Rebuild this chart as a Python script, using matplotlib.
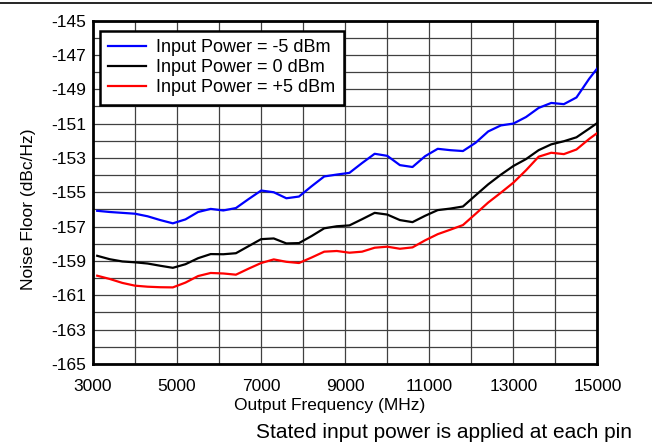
import numpy as np
import matplotlib.pyplot as plt
from matplotlib.lines import Line2D

plt.rcParams['font.family'] = ['Liberation Sans', 'DejaVu Sans']
plt.rcParams['axes.unicode_minus'] = False

freq = [3100, 3400, 3700, 4000, 4300, 4600, 4900, 5200, 5500, 5800,
        6100, 6400, 6700, 7000, 7300, 7600, 7900, 8200, 8500, 8800,
        9100, 9400, 9700, 10000, 10300, 10600, 10900, 11200, 11500, 11800,
        12100, 12400, 12700, 13000, 13300, 13600, 13900, 14200, 14500, 14800,
        15000]

nf_m5 = [-156.08, -156.15, -156.20, -156.25, -156.40, -156.62, -156.81, -156.58, -156.15, -155.97,
         -156.06, -155.92, -155.40, -154.90, -155.00, -155.35, -155.25, -154.65, -154.08, -153.97,
         -153.87, -153.30, -152.76, -152.88, -153.42, -153.53, -152.90, -152.47, -152.55, -152.60,
         -152.12, -151.46, -151.11, -151.00, -150.62, -150.09, -149.80, -149.87, -149.48, -148.40,
         -147.77]

nf_0 = [-158.70, -158.90, -159.03, -159.08, -159.15, -159.28, -159.40, -159.19, -158.84, -158.60,
        -158.61, -158.55, -158.14, -157.73, -157.69, -157.98, -157.96, -157.55, -157.10, -156.98,
        -156.93, -156.57, -156.20, -156.30, -156.62, -156.74, -156.37, -156.04, -155.95, -155.83,
        -155.18, -154.54, -153.98, -153.47, -153.07, -152.55, -152.21, -152.03, -151.80, -151.30,
        -150.96]

nf_p5 = [-159.86, -160.05, -160.28, -160.44, -160.50, -160.53, -160.54, -160.26, -159.88, -159.70,
         -159.73, -159.80, -159.45, -159.12, -158.91, -159.05, -159.12, -158.80, -158.46, -158.42,
         -158.52, -158.46, -158.23, -158.17, -158.29, -158.21, -157.80, -157.44, -157.18, -156.91,
         -156.26, -155.60, -155.03, -154.44, -153.72, -152.93, -152.70, -152.78, -152.51, -151.90,
         -151.54]

labels = ['Input Power = -5 dBm', 'Input Power = 0 dBm', 'Input Power = +5 dBm']
colors = ['#0000ff', '#000000', '#ff0000']

fig = plt.figure(figsize=(6.52, 4.44), dpi=100)
ax = fig.add_axes([0.1426, 0.1802, 0.7738, 0.7736])

for y, lab, c in zip([nf_m5, nf_0, nf_p5], labels, colors):
    ax.plot(freq, y, color=c, lw=1.6, label=lab, zorder=3)

ax.set_xlim(3000, 15000)
ax.set_ylim(-165, -145)
ax.set_xticks(np.arange(3000, 15001, 2000))
ax.set_xticks(np.arange(3000, 15001, 1000), minor=True)
ax.set_yticks(np.arange(-165, -144, 2))
ax.set_yticks(np.arange(-165, -144, 1), minor=True)
ax.grid(True, which='both', color='#404040', lw=0.9)
ax.tick_params(which='both', length=0, labelsize=12.5)
ax.tick_params(axis='x', pad=11)
ax.tick_params(axis='y', pad=5)

for s in ax.spines.values():
    s.set_linewidth(2)

ax.set_xlabel('Output Frequency (MHz)', fontsize=12.5)
ax.set_ylabel('Noise Floor (dBc/Hz)', fontsize=12.5)
ax.xaxis.set_label_coords(0.47, -0.1)
ax.yaxis.set_label_coords(-0.112, 0.45)

leg = ax.legend(loc='upper left', bbox_to_anchor=(0.013, 0.97), fontsize=13,
                fancybox=False, framealpha=1, borderpad=0.45, handlelength=2.1,
                handletextpad=0.6, labelspacing=0.18, borderaxespad=0)
leg.get_frame().set_edgecolor('black')
leg.get_frame().set_linewidth(1.8)

fig.add_artist(Line2D([0, 1], [0.993, 0.993], color='black', lw=1.2))
fig.text(0.392, 0.013, 'Stated input power is applied at each pin', fontsize=15,
         va='baseline', ha='left')

fig.savefig('out.png', dpi=100)
